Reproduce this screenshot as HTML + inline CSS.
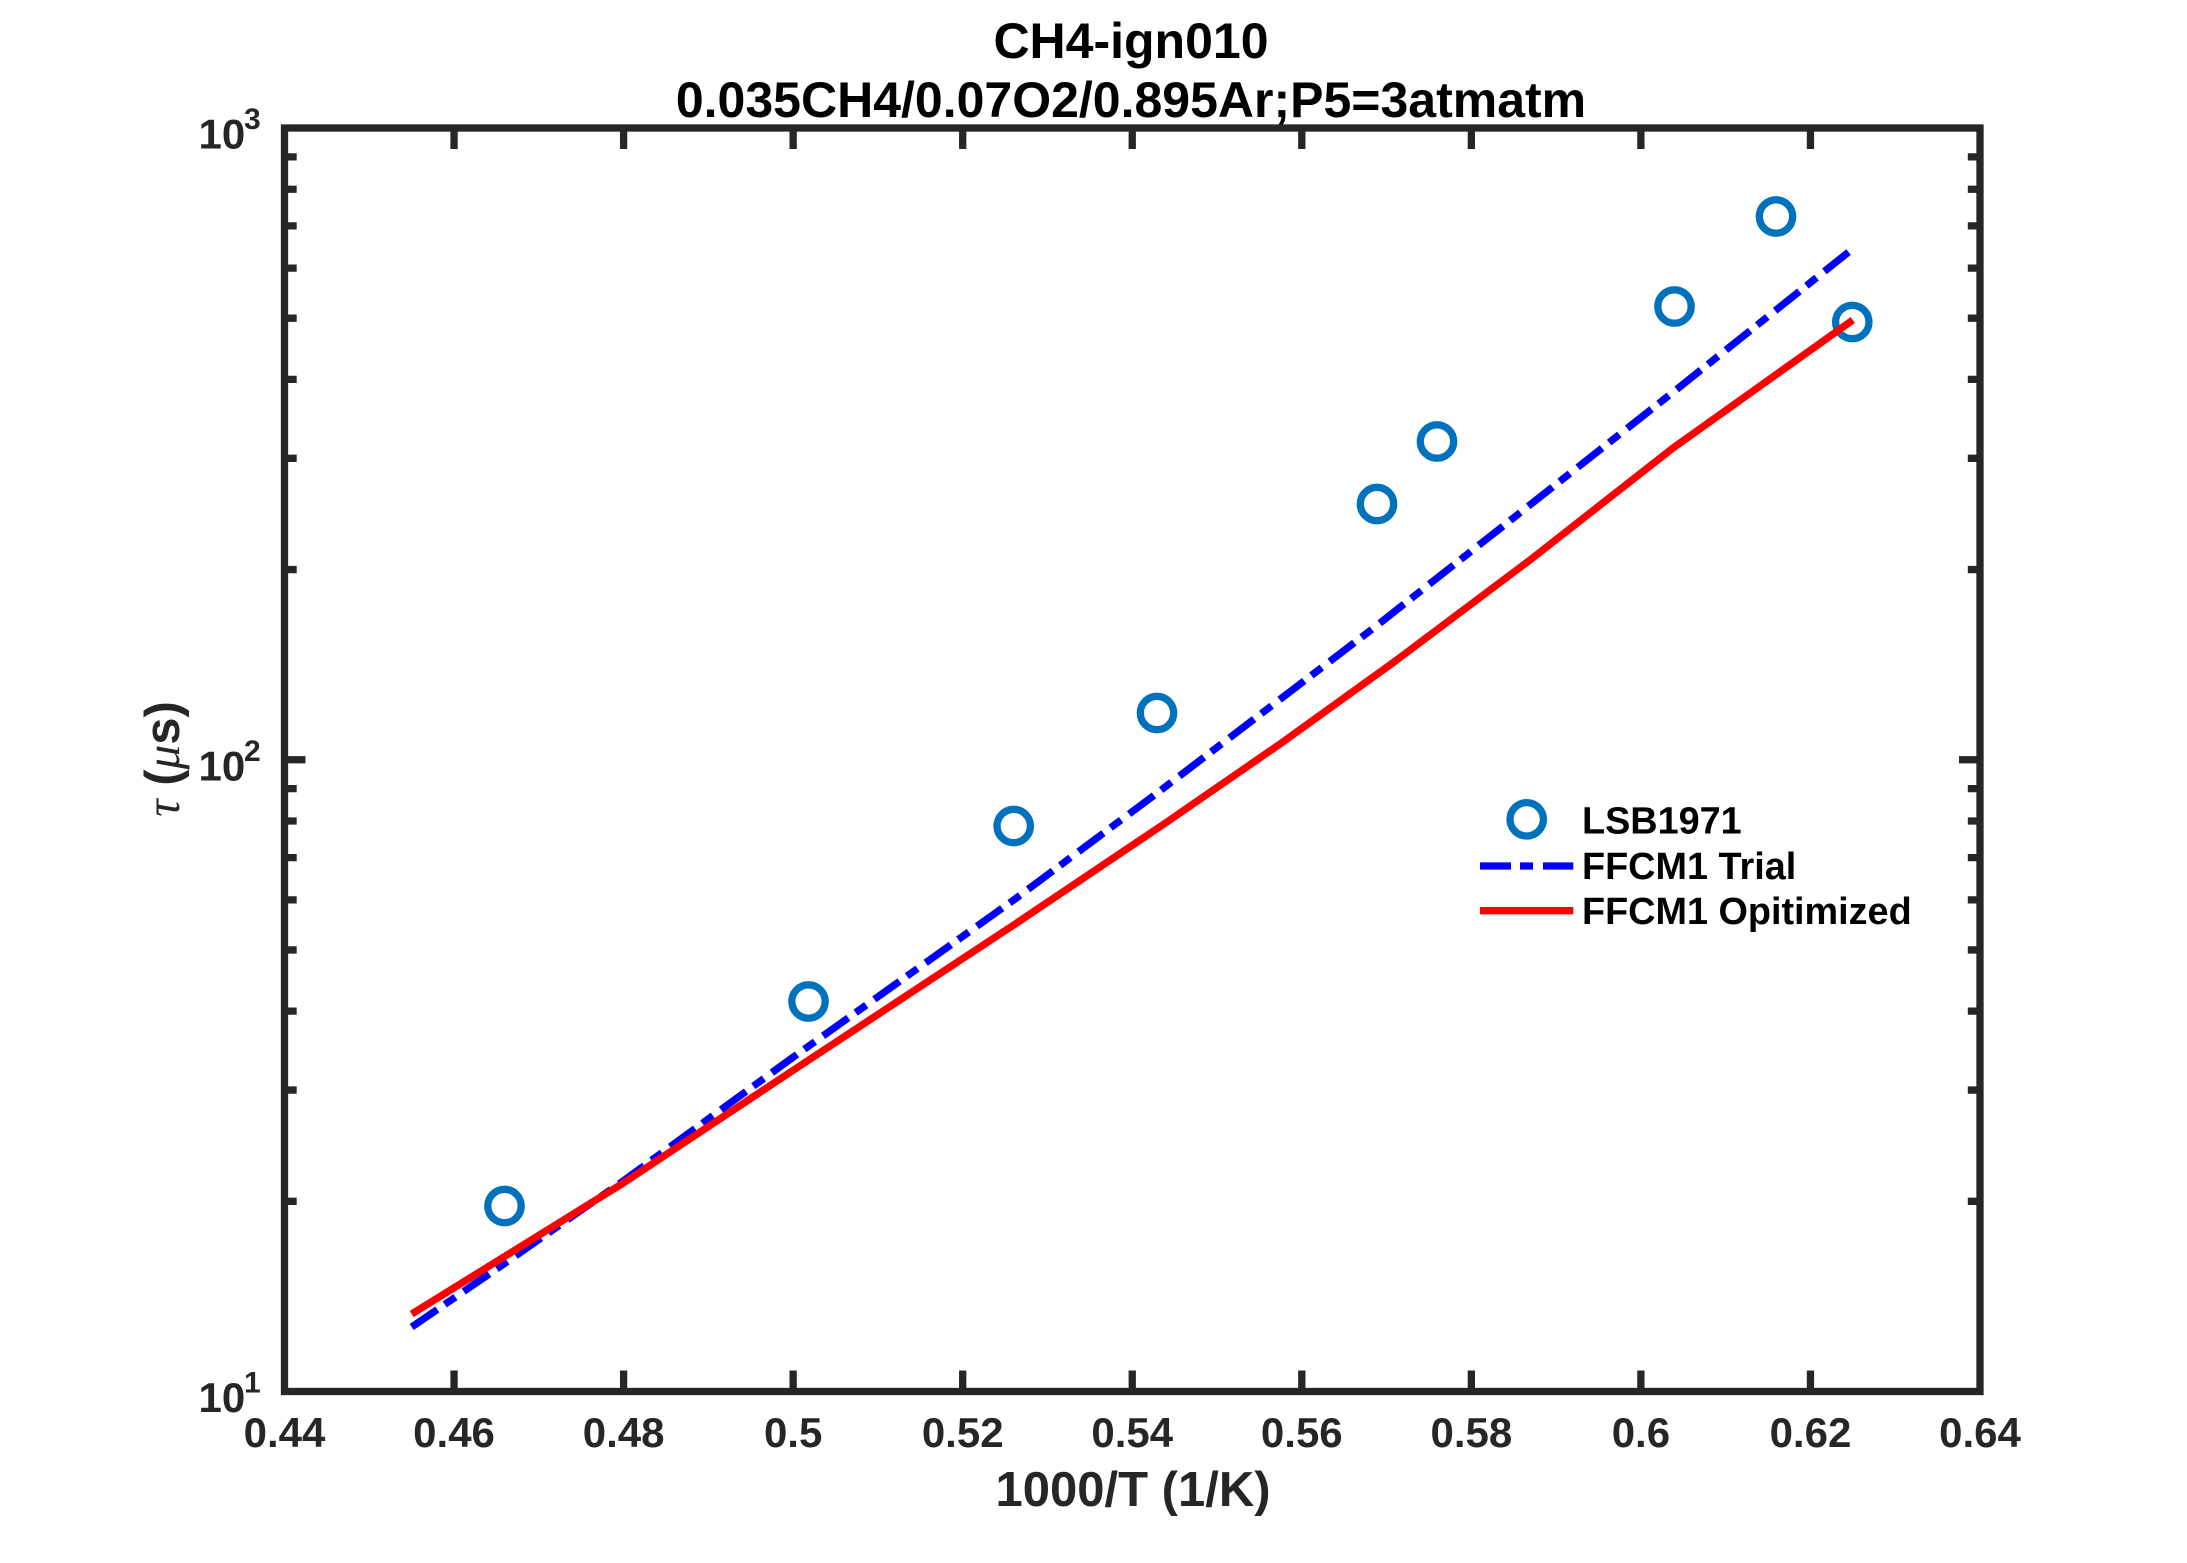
<!DOCTYPE html>
<html>
<head>
<meta charset="utf-8">
<style>
  html, body { margin: 0; padding: 0; background: #ffffff; }
  svg { display: block; }
</style>
</head>
<body>
<svg xmlns="http://www.w3.org/2000/svg" width="2187" height="1563" viewBox="0 0 2187 1563">
  <rect x="0" y="0" width="2187" height="1563" fill="#ffffff"/>

  <!-- Title -->
  <g font-family="'Liberation Sans', Arial, sans-serif" font-weight="bold" font-size="50" fill="#000000" text-anchor="middle">
    <text x="1131" y="58">CH4-ign010</text>
    <text x="1131" y="117">0.035CH4/0.07O2/0.895Ar;P5=3atmatm</text>
  </g>

  <!-- Data: circles -->
  <g fill="none" stroke="#0072BD" stroke-width="7.3">
    <circle cx="504.5" cy="1206" r="16.7"/>
    <circle cx="808.5" cy="1001.5" r="16.7"/>
    <circle cx="1013.7" cy="826" r="16.7"/>
    <circle cx="1157" cy="713" r="16.7"/>
    <circle cx="1377" cy="504" r="16.7"/>
    <circle cx="1437" cy="441.5" r="16.7"/>
    <circle cx="1674.5" cy="306.5" r="16.7"/>
    <circle cx="1776" cy="216.5" r="16.7"/>
    <circle cx="1852.3" cy="322" r="16.7"/>
  </g>

  <!-- FFCM1 Trial (blue dash-dot) -->
  <polyline fill="none" stroke="#0000FF" stroke-width="7.3" stroke-linecap="butt" stroke-linejoin="round"
    stroke-dasharray="31 9 13 10"
    points="411.7,1327 500,1266.6 623.3,1180.9 790.6,1059 1013.7,900 1155.9,794 1376.2,626 1674.6,391 1852.8,248.7"/>

  <!-- FFCM1 Optimized (red solid) -->
  <polyline fill="none" stroke="#FF0000" stroke-width="7.3" stroke-linecap="butt" stroke-linejoin="round"
    points="411.7,1314 623.3,1183 790.6,1072 1013.7,925 1164,824 1280,744 1394,662 1530,560 1673,448 1852.8,320"/>

  <!-- Axes box -->
  <rect x="284.5" y="128" width="1695.5" height="1263.5" fill="none" stroke="#262626" stroke-width="7.3" stroke-linejoin="miter"/>

  <!-- X ticks (bottom and top) -->
  <g stroke="#262626" stroke-width="7.3">
    <path d="M454.05,1391.5V1370.5 M623.6,1391.5V1370.5 M793.15,1391.5V1370.5 M962.7,1391.5V1370.5 M1132.25,1391.5V1370.5 M1301.8,1391.5V1370.5 M1471.35,1391.5V1370.5 M1640.9,1391.5V1370.5 M1810.45,1391.5V1370.5"/>
    <path d="M454.05,128V149 M623.6,128V149 M793.15,128V149 M962.7,128V149 M1132.25,128V149 M1301.8,128V149 M1471.35,128V149 M1640.9,128V149 M1810.45,128V149"/>
    <!-- Y major tick at 10^2 -->
    <path d="M284.5,759.75H305.5 M1980,759.75H1959"/>
    <!-- Y minor ticks left -->
    <path d="M284.5,1201.32H296.7 M284.5,1090.08H296.7 M284.5,1011.15H296.7 M284.5,949.93H296.7 M284.5,899.9H296.7 M284.5,857.61H296.7 M284.5,820.97H296.7 M284.5,788.66H296.7
             M284.5,569.57H296.7 M284.5,458.33H296.7 M284.5,379.4H296.7 M284.5,318.18H296.7 M284.5,268.15H296.7 M284.5,225.86H296.7 M284.5,189.22H296.7 M284.5,156.91H296.7"/>
    <!-- Y minor ticks right -->
    <path d="M1980,1201.32H1967.8 M1980,1090.08H1967.8 M1980,1011.15H1967.8 M1980,949.93H1967.8 M1980,899.9H1967.8 M1980,857.61H1967.8 M1980,820.97H1967.8 M1980,788.66H1967.8
             M1980,569.57H1967.8 M1980,458.33H1967.8 M1980,379.4H1967.8 M1980,318.18H1967.8 M1980,268.15H1967.8 M1980,225.86H1967.8 M1980,189.22H1967.8 M1980,156.91H1967.8"/>
  </g>

  <!-- X tick labels -->
  <g font-family="'Liberation Sans', Arial, sans-serif" font-weight="bold" font-size="42" fill="#262626" text-anchor="middle">
    <text x="284.5" y="1447">0.44</text>
    <text x="454.05" y="1447">0.46</text>
    <text x="623.6" y="1447">0.48</text>
    <text x="793.15" y="1447">0.5</text>
    <text x="962.7" y="1447">0.52</text>
    <text x="1132.25" y="1447">0.54</text>
    <text x="1301.8" y="1447">0.56</text>
    <text x="1471.35" y="1447">0.58</text>
    <text x="1640.9" y="1447">0.6</text>
    <text x="1810.45" y="1447">0.62</text>
    <text x="1980" y="1447">0.64</text>
  </g>

  <!-- Y tick labels -->
  <g font-family="'Liberation Sans', Arial, sans-serif" font-weight="bold" fill="#262626">
    <text x="198.5" y="148.5" font-size="42">10</text>
    <text x="244" y="129" font-size="30">3</text>
    <text x="198.5" y="780.25" font-size="42">10</text>
    <text x="244" y="760.75" font-size="30">2</text>
    <text x="198.5" y="1412" font-size="42">10</text>
    <text x="244" y="1392.5" font-size="30">1</text>
  </g>

  <!-- X label -->
  <text x="1133" y="1506" font-family="'Liberation Sans', Arial, sans-serif" font-weight="bold" font-size="49" fill="#262626" text-anchor="middle">1000/T (1/K)</text>

  <!-- Y label -->
  <text transform="translate(179,759) rotate(-90)" x="0" y="0" text-anchor="middle" font-family="'Liberation Sans', Arial, sans-serif" font-weight="bold" font-size="49" fill="#262626"><tspan font-family="'Liberation Serif', serif" font-style="italic" font-weight="normal">τ</tspan> (<tspan font-family="'Liberation Serif', serif" font-style="italic" font-weight="normal">μ</tspan>s)</text>

  <!-- Legend -->
  <circle cx="1526.7" cy="819.3" r="16.7" fill="none" stroke="#0072BD" stroke-width="7.3"/>
  <line x1="1480" y1="866" x2="1573.3" y2="866" stroke="#0000FF" stroke-width="7.3" stroke-dasharray="31 9 13 10"/>
  <line x1="1480" y1="910.7" x2="1573.3" y2="910.7" stroke="#FF0000" stroke-width="7.3"/>
  <g font-family="'Liberation Sans', Arial, sans-serif" font-weight="bold" font-size="37.8" fill="#000000">
    <text x="1582" y="833.3">LSB1971</text>
    <text x="1582" y="879">FFCM1 Trial</text>
    <text x="1582" y="924">FFCM1 Opitimized</text>
  </g>
</svg>
</body>
</html>
